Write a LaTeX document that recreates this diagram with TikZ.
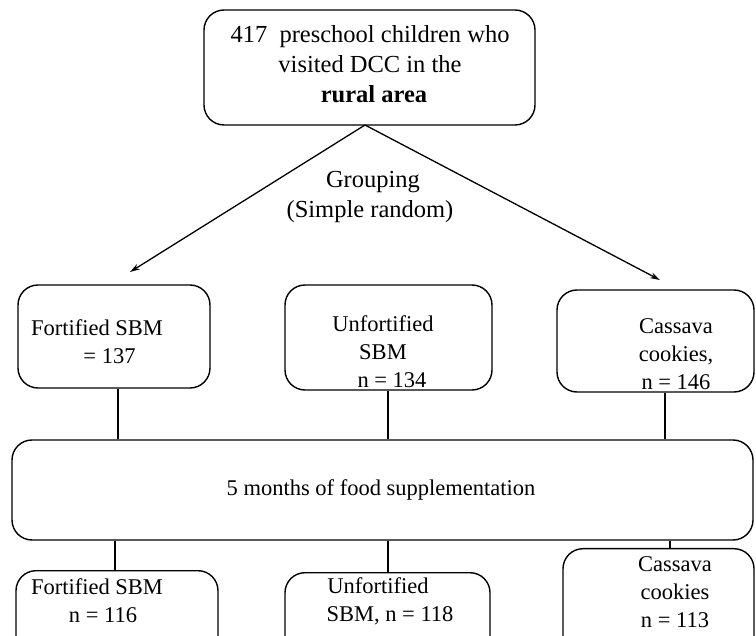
\documentclass[tikz,border=0pt]{standalone}
\usepackage{fontspec}
\setmainfont{Liberation Serif}
\usetikzlibrary{arrows.meta}
\tikzset{
  box/.style={draw, line width=1.4pt, rounded corners=20pt, inner sep=0pt},
  txt/.style={align=center, inner sep=0pt, font=\fontsize{22.5}{28}\selectfont},
  bigtxt/.style={align=center, inner sep=0pt, font=\fontsize{24.5}{30}\selectfont},
  conn/.style={line width=1.4pt},
  arr/.style={line width=1.3pt, -{Stealth[length=10pt,width=6pt]}}
}
\begin{document}
\begin{tikzpicture}[x=1pt, y=-1pt]
\useasboundingbox (0,0) rectangle (756,636);
\clip (0,0) rectangle (756,636);
% top
\node[box, minimum width=331pt, minimum height=115pt] (top) at (369.5,67.5) {};
\node[bigtxt] (toptxt) at (370,64) {417\ \ preschool children who\\visited DCC in the\\\hspace*{8pt}\textbf{rural area}};
% grouping
\node[bigtxt] (grp) at (370,197) {\hspace*{6pt}Grouping\\(Simple random)};
% middle boxes
\node[box, minimum width=192pt, minimum height=103pt] (m1) at (114,336.5) {};
\node[box, minimum width=207pt, minimum height=105pt] (m2) at (388.5,337.5) {};
\node[box, minimum width=197pt, minimum height=102pt] (m3) at (655.5,341) {};
\node[txt] (m1t) at (97,342) {Fortified SBM\\\hspace*{25pt}= 137};
\node[txt] (m2t) at (383,352) {Unfortified\\SBM\\\hspace*{18pt}n = 134};
\node[txt] (m3t) at (676,354) {Cassava\\cookies,\\n = 146};
% arrows
\coordinate (apex) at (365,125);
\coordinate (lt) at (130,272);
\coordinate (rt) at (660,280);
\draw[arr] (apex) -- (lt);
\draw[arr] (apex) -- (rt);
% big box
\node[box, minimum width=741pt, minimum height=100pt] (big) at (382.5,490) {};
\node[txt] (bigt) at (381,490) {5 months of food supplementation};
% connectors middle -> big
\draw[conn] (m1.south -| 118,0) -- (big.north -| 118,0);
\draw[conn] (m2.south -| 388,0) -- (big.north -| 388,0);
\draw[conn] (m3.south -| 665,0) -- (big.north -| 665,0);
% bottom boxes
\node[box, minimum width=202pt, minimum height=120pt, anchor=north] (b1) at (117,570) {};
\node[box, minimum width=205pt, minimum height=120pt, anchor=north] (b2) at (387.5,572) {};
\node[box, minimum width=191pt, minimum height=140pt, anchor=north] (b3) at (658.5,548) {};
\node[txt] (b1t) at (97,601) {Fortified SBM\\\hspace*{12pt}n = 116};
\node[txt] (b2t) at (390,601) {\hspace*{-24pt}Unfortified\\SBM, n = 118};
\node[txt] (b3t) at (675,592) {Cassava\\cookies\\n = 113};
% connectors big -> bottom
\draw[conn] (big.south -| 115,0) -- (b1.north -| 115,0);
\draw[conn] (big.south -| 388,0) -- (b2.north -| 388,0);
\draw[conn] (big.south -| 670,0) -- (b3.north -| 670,0);
\end{tikzpicture}
\end{document}
